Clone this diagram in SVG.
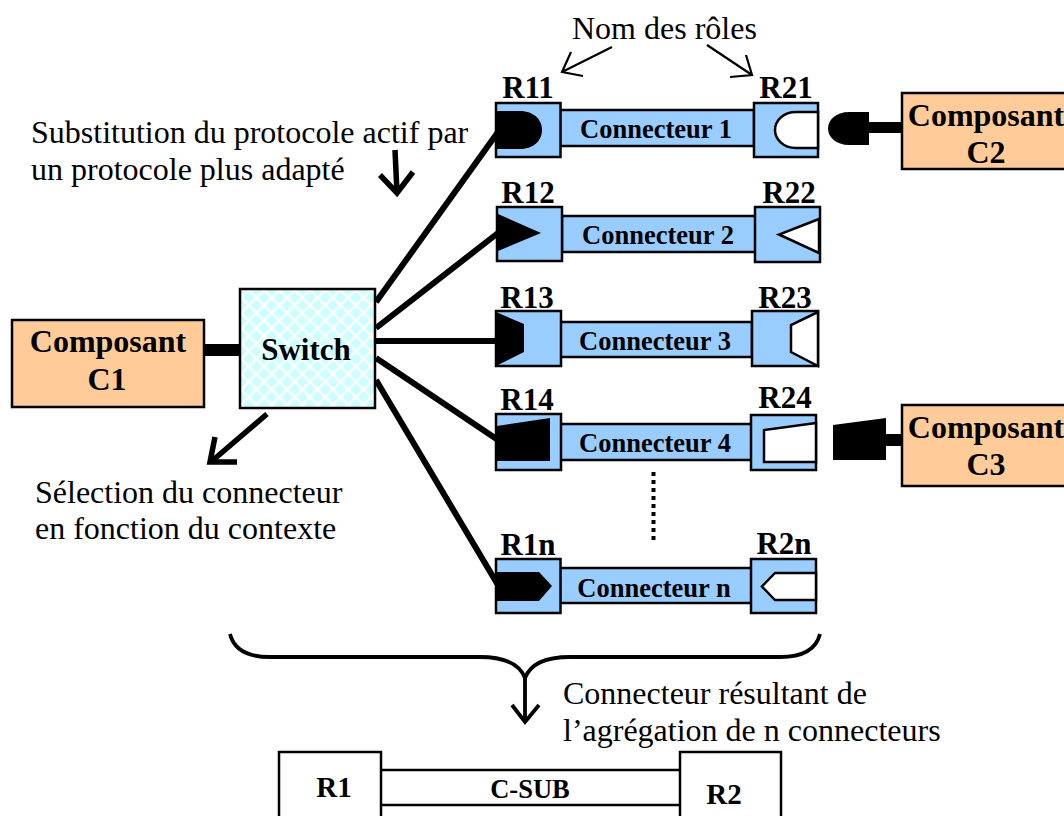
<svg xmlns="http://www.w3.org/2000/svg" width="1064" height="816" viewBox="0 0 1064 816">
<style>
text{font-family:"Liberation Serif","Times New Roman",serif;fill:#000}
.t{font-size:32px}
.b{font-weight:bold}
.c{font-size:32px;font-weight:bold;text-anchor:middle}
.r{font-size:31px;font-weight:bold;text-anchor:middle}
.n{font-size:26.500px;font-weight:bold;text-anchor:middle}
.blue{fill:#99CCFF;stroke:#000;stroke-width:2.500}
.org{fill:#FFCC99;stroke:#000;stroke-width:2.500}
.wh{fill:#fff;stroke:#000;stroke-width:2.500}
.plain{fill:#fff;stroke:#000;stroke-width:2.500}
.k{fill:#000}
.l{fill:none;stroke:#000;stroke-width:6}
.a{fill:none;stroke:#000;stroke-width:2.200}
.a4{fill:none;stroke:#000;stroke-width:5.500}
.br{fill:none;stroke:#000;stroke-width:3.800}
</style>
<defs>
<pattern id="dia" width="15.3" height="15.3" patternUnits="userSpaceOnUse" x="241" y="290">
<rect width="15.3" height="15.3" fill="#fff"/>
<path d="M7.65 1.650L13.650 7.65L7.65 13.650L1.650 7.65Z M0 -6L6 0L0 6L-6 0Z M15.3 -6L21.300 0L15.3 6L9.300 0Z M0 9.300L6 15.3L0 21.300L-6 15.3Z M15.3 9.300L21.300 15.3L15.3 21.300L9.300 15.3Z" fill="#CCFFFF"/>
</pattern>
</defs>
<g id="connectors">
<path class="l" d="M376 302L498 132M376 328L498 233M376 341H498M376 358L498 440M376 380L498 585"/>
<rect class="k" x="204" y="344" width="36" height="12"/>
<rect class="k" x="868" y="122" width="34" height="11"/>
<rect class="k" x="885" y="434" width="17" height="12"/>
<path class="a" d="M612 47L562 72M571 52L562 72L583 76"/>
<path class="a" d="M707 45L752 75M746 55L752 75L730 77"/>
<path class="a4" d="M395 150L397 193M380 175L397 193L413 172"/>
<path class="a4" d="M267 414L212 461M215 437L210 462L237 462"/>
<path d="M653.500 472V541" style="fill:none;stroke:#000;stroke-width:4;stroke-dasharray:4 4"/>
<path class="br" d="M230 634C234 650 248 657 270 657H480C505 657 520 665 525 678C530 665 545 657 570 657H780C802 657 816 650 820 634"/>
<path class="br" d="M525 676V722M512 705L525 722L539 705"/>
</g>
<g id="c1"><rect class="org" x="12" y="320" width="192" height="87"/><text class="c" x="108" y="352">Composant</text><text class="c" x="107" y="390">C1</text></g>
<g id="switch"><rect x="240" y="289" width="135" height="119" fill="url(#dia)" stroke="#000" stroke-width="2.500"/><text class="b" style="font-size:31px" text-anchor="middle" x="306" y="360">Switch</text></g>
<g id="c2"><rect class="org" x="902" y="93" width="170" height="76"/><path class="k" d="M869 112V145H849C836 145 828 137 828 128.500C828 120 836 112 849 112Z"/><text class="c" x="986" y="126">Composant</text><text class="c" x="986" y="163">C2</text></g>
<g id="c3"><rect class="org" x="902" y="405" width="170" height="81"/><path class="k" d="M833 425L886 418V460H833Z"/><text class="c" x="986" y="438">Composant</text><text class="c" x="986" y="475">C3</text></g>
<g id="conn1"><rect class="blue" x="560" y="110" width="194" height="36"/><text class="n" x="656" y="138">Connecteur 1</text></g>
<g id="r11"><rect class="blue" x="496" y="103" width="64.500" height="54"/><path class="k" d="M496 111H520C534 111 542 120 542 130C542 140 534 149 520 149H496Z"/><text class="r" x="528" y="98">R11</text></g>
<g id="r21"><rect class="blue" x="754" y="103" width="64" height="54"/><path class="wh" d="M818 112H796C783 112 775 121 775 130C775 139 783 148 796 148H818Z"/><text class="r" x="786" y="98">R21</text></g>
<g id="conn2"><rect class="blue" x="562" y="216" width="194" height="36"/><text class="n" x="658" y="244">Connecteur 2</text></g>
<g id="r12"><rect class="blue" x="497" y="207" width="65" height="54"/><path class="k" d="M498 214L541 233L498 251Z"/><text class="r" x="528" y="203">R12</text></g>
<g id="r22"><rect class="blue" x="755" y="207" width="65" height="55"/><path class="wh" d="M819 219L779 234.500L819 253Z"/><text class="r" x="789" y="203">R22</text></g>
<g id="conn3"><rect class="blue" x="560" y="322" width="192" height="35"/><text class="n" x="655" y="350">Connecteur 3</text></g>
<g id="r13"><rect class="blue" x="496" y="311" width="65" height="55"/><path class="k" d="M496 312L524 324V352L496 366Z"/><text class="r" x="527" y="308">R13</text></g>
<g id="r23"><rect class="blue" x="752" y="311" width="66" height="55"/><path class="wh" d="M818 312L791 325V352L818 366Z"/><text class="r" x="785" y="308">R23</text></g>
<g id="conn4"><rect class="blue" x="560" y="424" width="192" height="36"/><text class="n" x="655" y="452">Connecteur 4</text></g>
<g id="r14"><rect class="blue" x="496" y="414" width="65" height="56"/><path class="k" d="M497 426L550 418V461H497Z"/><text class="r" x="527" y="410">R14</text></g>
<g id="r24"><rect class="blue" x="751" y="415" width="65" height="55"/><path class="wh" d="M816 423L764 430V462H816Z"/><text class="r" x="785" y="408">R24</text></g>
<g id="connn"><rect class="blue" x="560" y="568" width="192" height="35"/><text class="n" x="654" y="597">Connecteur n</text></g>
<g id="r1n"><rect class="blue" x="496" y="559" width="64.500" height="54"/><path class="k" d="M497 572H539L552 586L539 601H497Z"/><text class="r" x="528" y="555">R1n</text></g>
<g id="r2n"><rect class="blue" x="751" y="559" width="65" height="54"/><path class="wh" d="M816 573H775L762 586.500L775 600H816Z"/><text class="r" x="784" y="554">R2n</text></g>
<g id="csub"><path class="plain" d="M381 770H680M381 805H680"/><text class="b" style="font-size:26.500px" text-anchor="middle" x="530" y="798">C-SUB</text></g>
<g id="r1"><rect class="plain" x="279" y="752" width="102" height="80"/><text class="b" style="font-size:29px" text-anchor="middle" x="334" y="797">R1</text></g>
<g id="r2"><rect class="plain" x="680" y="752" width="101" height="80"/><text class="b" style="font-size:29px" text-anchor="middle" x="724" y="804">R2</text></g>
<g id="labels">
<text class="t" x="572" y="39">Nom des rôles</text>
<text class="t" x="31" y="143">Substitution du protocole actif par</text>
<text class="t" x="31" y="180">un protocole plus adapté</text>
<text class="t" x="35" y="503">Sélection du connecteur</text>
<text class="t" x="35" y="539">en fonction du contexte</text>
<text class="t" x="563" y="704">Connecteur résultant de</text>
<text class="t" x="563" y="741">l’agrégation de n connecteurs</text>
</g>
</svg>
